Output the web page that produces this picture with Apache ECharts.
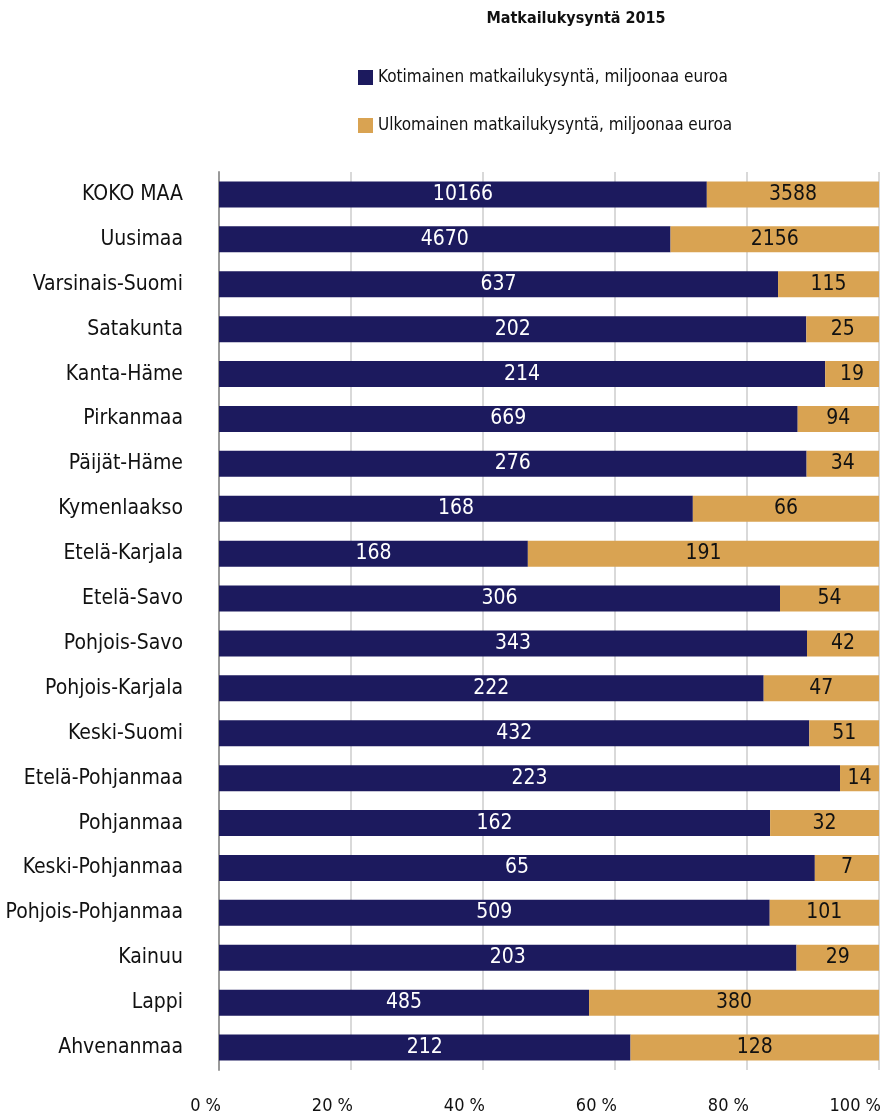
<!DOCTYPE html>
<html lang="fi">
  <head>
    <meta charset="UTF-8" />
    <title>Matkailukysyntä 2015</title>
    <style>
      body { margin: 0; padding: 0; background: #fff; }
      #container { width: 888px; height: 1116px; }
    </style>
  </head>
  <body>
    <div id="container"></div>
    <script src="https://cdn.jsdelivr.net/npm/echarts@6/dist/echarts.min.js"></script>
    <script>
      var FONT = "'Liberation Sans Narrow', 'DejaVu Sans Condensed', 'Roboto', sans-serif";

      // alueet ylhäältä alas
      var regions = [
        "KOKO MAA", "Uusimaa", "Varsinais-Suomi", "Satakunta", "Kanta-Häme",
        "Pirkanmaa", "Päijät-Häme", "Kymenlaakso", "Etelä-Karjala", "Etelä-Savo",
        "Pohjois-Savo", "Pohjois-Karjala", "Keski-Suomi", "Etelä-Pohjanmaa",
        "Pohjanmaa", "Keski-Pohjanmaa", "Pohjois-Pohjanmaa", "Kainuu", "Lappi",
        "Ahvenanmaa"
      ];
      var domestic = [10166, 4670, 637, 202, 214, 669, 276, 168, 168, 306,
                      343, 222, 432, 223, 162, 65, 509, 203, 485, 212];
      var foreign = [3588, 2156, 115, 25, 19, 94, 34, 66, 191, 54,
                     42, 47, 51, 14, 32, 7, 101, 29, 380, 128];
      var xTicks = [0, 20, 40, 60, 80, 100];

      // osuudet prosentteina (100 % pinottu)
      var domPct = domestic.map(function (v, i) { return v / (v + foreign[i]) * 100; });
      var forPct = foreign.map(function (v, i) { return v / (domestic[i] + v) * 100; });

      var chart = echarts.init(document.getElementById("container"));
      chart.setOption({
        animation: false,
        textStyle: { fontFamily: FONT },
        title: {
          text: "Matkailukysyntä 2015",
          left: 571,
          textAlign: "center",
          top: 6,
          textStyle: { fontFamily: FONT, fontSize: 16, fontWeight: "bold", color: "#111" }
        },
        legend: {
          orient: "vertical",
          left: 353,
          top: 64,
          itemWidth: 15,
          itemHeight: 15,
          itemGap: 31,
          icon: "rect",
          textStyle: { fontFamily: FONT, fontSize: 17, color: "#111" },
          data: ["Kotimainen matkailukysyntä, miljoonaa euroa", "Ulkomainen matkailukysyntä, miljoonaa euroa"]
        },
        grid: { left: 219, right: 9, top: 172, bottom: 46, outerBoundsMode: "none" },
        xAxis: {
          type: "value",
          min: xTicks[0],
          max: xTicks[xTicks.length - 1],
          interval: 20,
          axisLine: { show: false },
          axisTick: { show: false },
          axisLabel: {
            formatter: "{value} %",
            fontFamily: FONT,
            fontSize: 18,
            color: "#111",
            align: "right",
            padding: [0, -2, 0, 0],
            margin: 27
          },
          splitLine: { lineStyle: { color: "#d9d9d9", width: 2 } }
        },
        yAxis: {
          type: "category",
          inverse: true,
          data: regions,
          axisLine: { lineStyle: { color: "#9a9a9a", width: 2 } },
          axisTick: { length: 6, lineStyle: { color: "#9a9a9a", width: 2 } },
          axisLabel: { fontFamily: FONT, fontSize: 21, color: "#111", margin: 36 }
        },
        series: [
          {
            name: "Kotimainen matkailukysyntä, miljoonaa euroa",
            type: "bar",
            stack: "total",
            barWidth: 26,
            data: domPct,
            itemStyle: { color: "#1c1a5e" },
            label: {
              show: true,
              position: "inside",
              color: "#fff",
              fontFamily: FONT,
              fontSize: 21,
              formatter: function (p) { return domestic[p.dataIndex]; }
            }
          },
          {
            name: "Ulkomainen matkailukysyntä, miljoonaa euroa",
            type: "bar",
            stack: "total",
            barWidth: 26,
            data: forPct,
            itemStyle: { color: "#d9a352" },
            label: {
              show: true,
              position: "inside",
              color: "#111",
              fontFamily: FONT,
              fontSize: 21,
              formatter: function (p) { return foreign[p.dataIndex]; }
            }
          }
        ]
      });
    </script>
  </body>
</html>
